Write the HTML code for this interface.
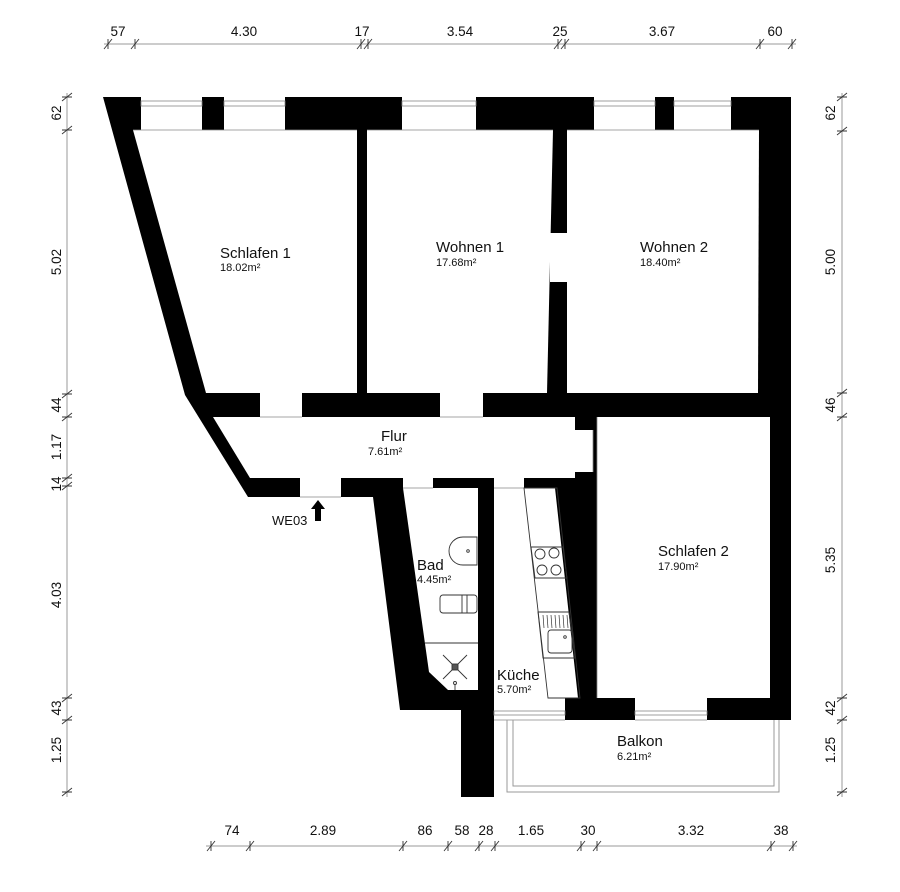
<!DOCTYPE html>
<html><head><meta charset="utf-8"><style>
html,body{margin:0;padding:0;background:#fff;}
svg{display:block;}
text{font-family:"Liberation Sans",sans-serif;fill:#111;}
.d{font-size:13.5px;font-family:"Liberation Sans Narrow","Liberation Sans",sans-serif;font-stretch:condensed;fill:#222;}
.t{font-size:15px;}
.a{font-size:11px;}
</style></head><body>
<svg width="900" height="892" viewBox="0 0 900 892" xmlns="http://www.w3.org/2000/svg">
<polygon fill="#000" points="103,97 791,97 791,720 494,720 494,797 461,797 461,710 400,710 373,497 248,497 185,395"/>
<g fill="#fff">
<polygon points="133,130 357,130 357,393 206,393"/>
<polygon points="367,130 553,130 547,393 367,393"/>
<polygon points="567,130 759,130 758,393 567,393"/>
<polygon points="213,417 575,417 575,478 250,478"/>
<polygon points="597,417 770,417 770,698 597,698"/>
<polygon points="403,488 478,488 478,690 448,690 429,672"/>
<polygon points="494,488 555,488 578,698 494,698"/>
<rect x="141" y="97" width="61" height="33"/>
<rect x="224" y="97" width="61" height="33"/>
<rect x="402" y="97" width="74" height="33"/>
<rect x="594" y="97" width="61" height="33"/>
<rect x="674" y="97" width="57" height="33"/>
<rect x="260" y="393" width="42" height="24"/>
<rect x="440" y="393" width="43" height="24"/>
<rect x="550" y="233" width="17" height="49"/>
<rect x="300" y="478" width="41" height="19"/>
<rect x="403" y="478" width="30" height="10"/>
<rect x="494" y="478" width="30" height="10"/>
<rect x="575" y="430" width="18" height="42"/>
<rect x="494" y="698" width="71" height="22"/>
<rect x="635" y="698" width="72" height="22"/>
</g>
<g fill="none" stroke="#888" stroke-width="0.8">
<rect x="141" y="101" width="61" height="5"/><rect x="224" y="101" width="61" height="5"/>
<rect x="402" y="101" width="74" height="5"/><rect x="594" y="101" width="61" height="5"/>
<rect x="674" y="101" width="57" height="5"/>
<rect x="494" y="711" width="71" height="4"/><rect x="635" y="711" width="72" height="4"/>
<line x1="133" y1="130" x2="357" y2="130"/><line x1="367" y1="130" x2="553" y2="130"/>
<line x1="567" y1="130" x2="759" y2="130"/>
<line x1="260" y1="417" x2="302" y2="417"/><line x1="440" y1="417" x2="483" y2="417"/>
<line x1="300" y1="497" x2="341" y2="497"/><line x1="403" y1="488" x2="433" y2="488"/>
<line x1="494" y1="488" x2="524" y2="488"/><line x1="593" y1="430" x2="593" y2="472"/>
<line x1="494" y1="720" x2="565" y2="720"/>
<line x1="635" y1="720" x2="707" y2="720"/>
<line x1="597" y1="417" x2="597" y2="698"/>
</g>
<g fill="none" stroke="#999" stroke-width="1">
<polyline points="507,720 507,792 779,792 779,720"/>
<polyline points="513,720 513,786 774,786 774,720"/>
</g>
<g fill="none" stroke="#333" stroke-width="0.9">
<path d="M477,537 L463,537 A14,14 0 0 0 463,565 L477,565 Z"/>
<circle cx="468" cy="551" r="1.3"/>
<rect x="440" y="595" width="37" height="18" rx="3"/>
<line x1="462" y1="595" x2="462" y2="613"/><line x1="467" y1="595" x2="467" y2="613"/>
<line x1="425" y1="643" x2="478" y2="643"/>
<line x1="443" y1="655" x2="467" y2="679"/><line x1="467" y1="655" x2="443" y2="679"/>
<rect x="452" y="664" width="6" height="6" fill="#555"/>
<circle cx="455" cy="683" r="1.5"/><line x1="455" y1="685" x2="455" y2="690"/>
<polygon points="524,488 557,488 580,698 548,698"/>
<polygon points="531,547 563,547 567,578 535,578"/>
<circle cx="540" cy="554" r="5"/><circle cx="554" cy="553" r="5"/>
<circle cx="542" cy="570" r="5"/><circle cx="556" cy="570" r="5"/>
<polygon points="538,612 569,612 575,658 543,658"/>
<rect x="548" y="630" width="24" height="23" rx="3"/>
<circle cx="565" cy="637" r="1.3"/>
</g>
<g stroke="#333" stroke-width="0.7">
<line x1="543" y1="615" x2="544" y2="628"/><line x1="547" y1="615" x2="548" y2="628"/>
<line x1="551" y1="615" x2="552" y2="628"/><line x1="555" y1="615" x2="556" y2="628"/>
<line x1="559" y1="615" x2="560" y2="628"/><line x1="563" y1="615" x2="564" y2="628"/>
<line x1="567" y1="615" x2="568" y2="628"/>
</g>
<text class="t" x="220" y="258">Schlafen 1</text><text class="a" x="220" y="271">18.02m²</text>
<text class="t" x="436" y="252">Wohnen 1</text><text class="a" x="436" y="266">17.68m²</text>
<text class="t" x="640" y="252">Wohnen 2</text><text class="a" x="640" y="266">18.40m²</text>
<text class="t" x="381" y="441">Flur</text><text class="a" x="368" y="455">7.61m²</text>
<text class="t" x="417" y="570">Bad</text><text class="a" x="417" y="583">4.45m²</text>
<text class="t" x="658" y="556">Schlafen 2</text><text class="a" x="658" y="570">17.90m²</text>
<text class="t" x="497" y="680">Küche</text><text class="a" x="497" y="693">5.70m²</text>
<text class="t" x="617" y="746">Balkon</text><text class="a" x="617" y="760">6.21m²</text>
<text x="272" y="525" style="font-size:13px">WE03</text>
<polygon points="318,500 325,509 321,509 321,521 315,521 315,509 311,509" fill="#000"/>
<g stroke="#999" stroke-width="1" fill="none">
<line x1="104" y1="44" x2="796" y2="44"/>
<line x1="67" y1="93" x2="67" y2="797"/>
<line x1="842" y1="93" x2="842" y2="797"/>
<line x1="206" y1="846" x2="797" y2="846"/>
</g>
<g stroke="#333" stroke-width="0.9">
<path d="M104,49 L112,39 M131,49 L139,39 M357,49 L365,39 M364,49 L372,39 M554,49 L562,39 M561,49 L569,39 M756,49 L764,39 M788,49 L796,39"/>
<path d="M108,39 L108,49 M135,39 L135,49 M361,39 L361,49 M368,39 L368,49 M558,39 L558,49 M565,39 L565,49 M760,39 L760,49 M792,39 L792,49"/>
<path d="M62,101 L72,93 M62,134 L72,126 M62,398 L72,390 M62,421 L72,413 M62,482 L72,474 M62,490 L72,482 M62,702 L72,694 M62,724 L72,716 M62,796 L72,788"/>
<path d="M62,97 L72,97 M62,130 L72,130 M62,394 L72,394 M62,417 L72,417 M62,478 L72,478 M62,486 L72,486 M62,698 L72,698 M62,720 L72,720 M62,792 L72,792"/>
<path d="M837,101 L847,93 M837,135 L847,127 M837,397 L847,389 M837,421 L847,413 M837,702 L847,694 M837,724 L847,716 M837,796 L847,788"/>
<path d="M837,97 L847,97 M837,131 L847,131 M837,393 L847,393 M837,417 L847,417 M837,698 L847,698 M837,720 L847,720 M837,792 L847,792"/>
<path d="M207,851 L215,841 M246,851 L254,841 M399,851 L407,841 M444,851 L452,841 M475,851 L483,841 M491,851 L499,841 M577,851 L585,841 M593,851 L601,841 M767,851 L775,841 M789,851 L797,841"/>
<path d="M211,841 L211,851 M250,841 L250,851 M403,841 L403,851 M448,841 L448,851 M479,841 L479,851 M495,841 L495,851 M581,841 L581,851 M597,841 L597,851 M771,841 L771,851 M793,841 L793,851"/>
</g>
<g class="d" text-anchor="middle">
<text x="118" y="36">57</text><text x="244" y="36">4.30</text><text x="362" y="36">17</text>
<text x="460" y="36">3.54</text><text x="560" y="36">25</text><text x="662" y="36">3.67</text><text x="775" y="36">60</text>
<text x="232" y="835">74</text><text x="323" y="835">2.89</text><text x="425" y="835">86</text>
<text x="462" y="835">58</text><text x="486" y="835">28</text><text x="531" y="835">1.65</text>
<text x="588" y="835">30</text><text x="691" y="835">3.32</text><text x="781" y="835">38</text>
<g transform="translate(61,0)">
<text transform="translate(0,113) rotate(-90)">62</text>
<text transform="translate(0,262) rotate(-90)">5.02</text>
<text transform="translate(0,405) rotate(-90)">44</text>
<text transform="translate(0,447) rotate(-90)">1.17</text>
<text transform="translate(0,484) rotate(-90)">14</text>
<text transform="translate(0,595) rotate(-90)">4.03</text>
<text transform="translate(0,708) rotate(-90)">43</text>
<text transform="translate(0,750) rotate(-90)">1.25</text>
</g>
<g transform="translate(835,0)">
<text transform="translate(0,113) rotate(-90)">62</text>
<text transform="translate(0,262) rotate(-90)">5.00</text>
<text transform="translate(0,405) rotate(-90)">46</text>
<text transform="translate(0,560) rotate(-90)">5.35</text>
<text transform="translate(0,708) rotate(-90)">42</text>
<text transform="translate(0,750) rotate(-90)">1.25</text>
</g>
</g>
</svg>
</body></html>
